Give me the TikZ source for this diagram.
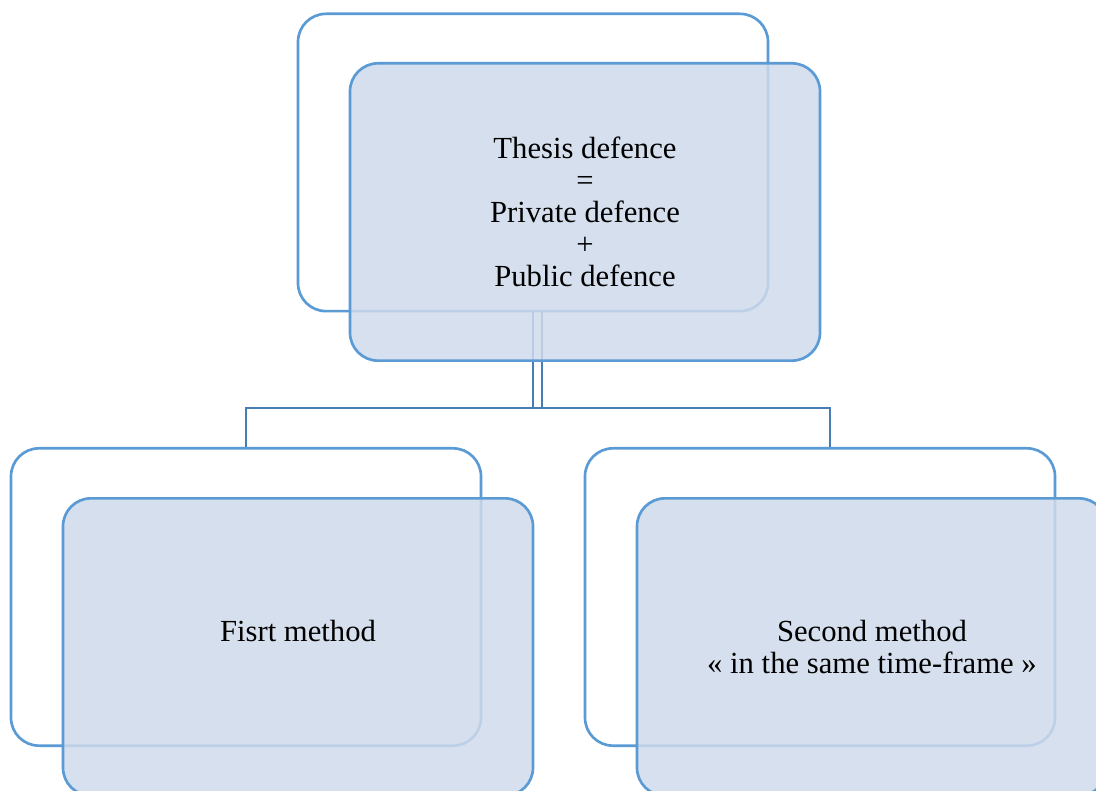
\documentclass[tikz,border=0pt]{standalone}
\usepackage{fontspec}
\setmainfont{Liberation Serif}
\usepackage{tikz}
\definecolor{boxline}{RGB}{91,155,213}
\definecolor{boxfill}{RGB}{207,218,235}
\definecolor{connline}{RGB}{72,124,180}
\tikzset{every picture/.style={line width=0.75pt}}
\tikzset{
	backbox/.style={draw=boxline, fill=white, line width=2pt, rounded corners=21pt, minimum width=352.5pt, minimum height=223pt},
	frontbox/.style={draw=boxline, fill=boxfill, fill opacity=0.85, text opacity=1, line width=2pt, rounded corners=21pt, minimum width=352.5pt, minimum height=223pt, align=center, font=\fontsize{23}{24}\selectfont},
	connector/.style={draw=connline, line width=1.6pt}
}

\begin{document}
\begin{tikzpicture}[x=0.75pt,y=0.75pt,yscale=-1,xscale=1]
		\useasboundingbox (0,0) rectangle (1096,791);
		
		%Shape: Rounded Rect [id:thesisback] 
		\node [backbox] (thesisback) at (533,162.5) {};
		%Shape: Rounded Rect [id:firstback] 
		\node [backbox] (firstback) at (246,597) {};
		%Shape: Rounded Rect [id:secondback] 
		\node [backbox] (secondback) at (820,597) {};
		
		%Straight Lines [id:fork] 
		\coordinate (fork) at (537.5,408);
		\draw [connector] (thesisback.south) -- (thesisback.south |- fork);
		\draw [connector] ([xshift=6.75pt]thesisback.south) -- ([xshift=6.75pt]thesisback.south |- fork);
		\draw [connector] (firstback.north) |- (fork) -| ([xshift=7.5pt]secondback.north);
		
		% Text Node
		\node [frontbox] (thesis) at (585,212) {Thesis defence\\=\\Private defence\\+\\Public defence};
		% Text Node
		\node [frontbox] (first) at (298,647) {Fisrt method\\~};
		% Text Node
		\node [frontbox] (second) at (872,647) {Second method\\« in the same time-frame »};
		
		\end{tikzpicture}
\end{document}
